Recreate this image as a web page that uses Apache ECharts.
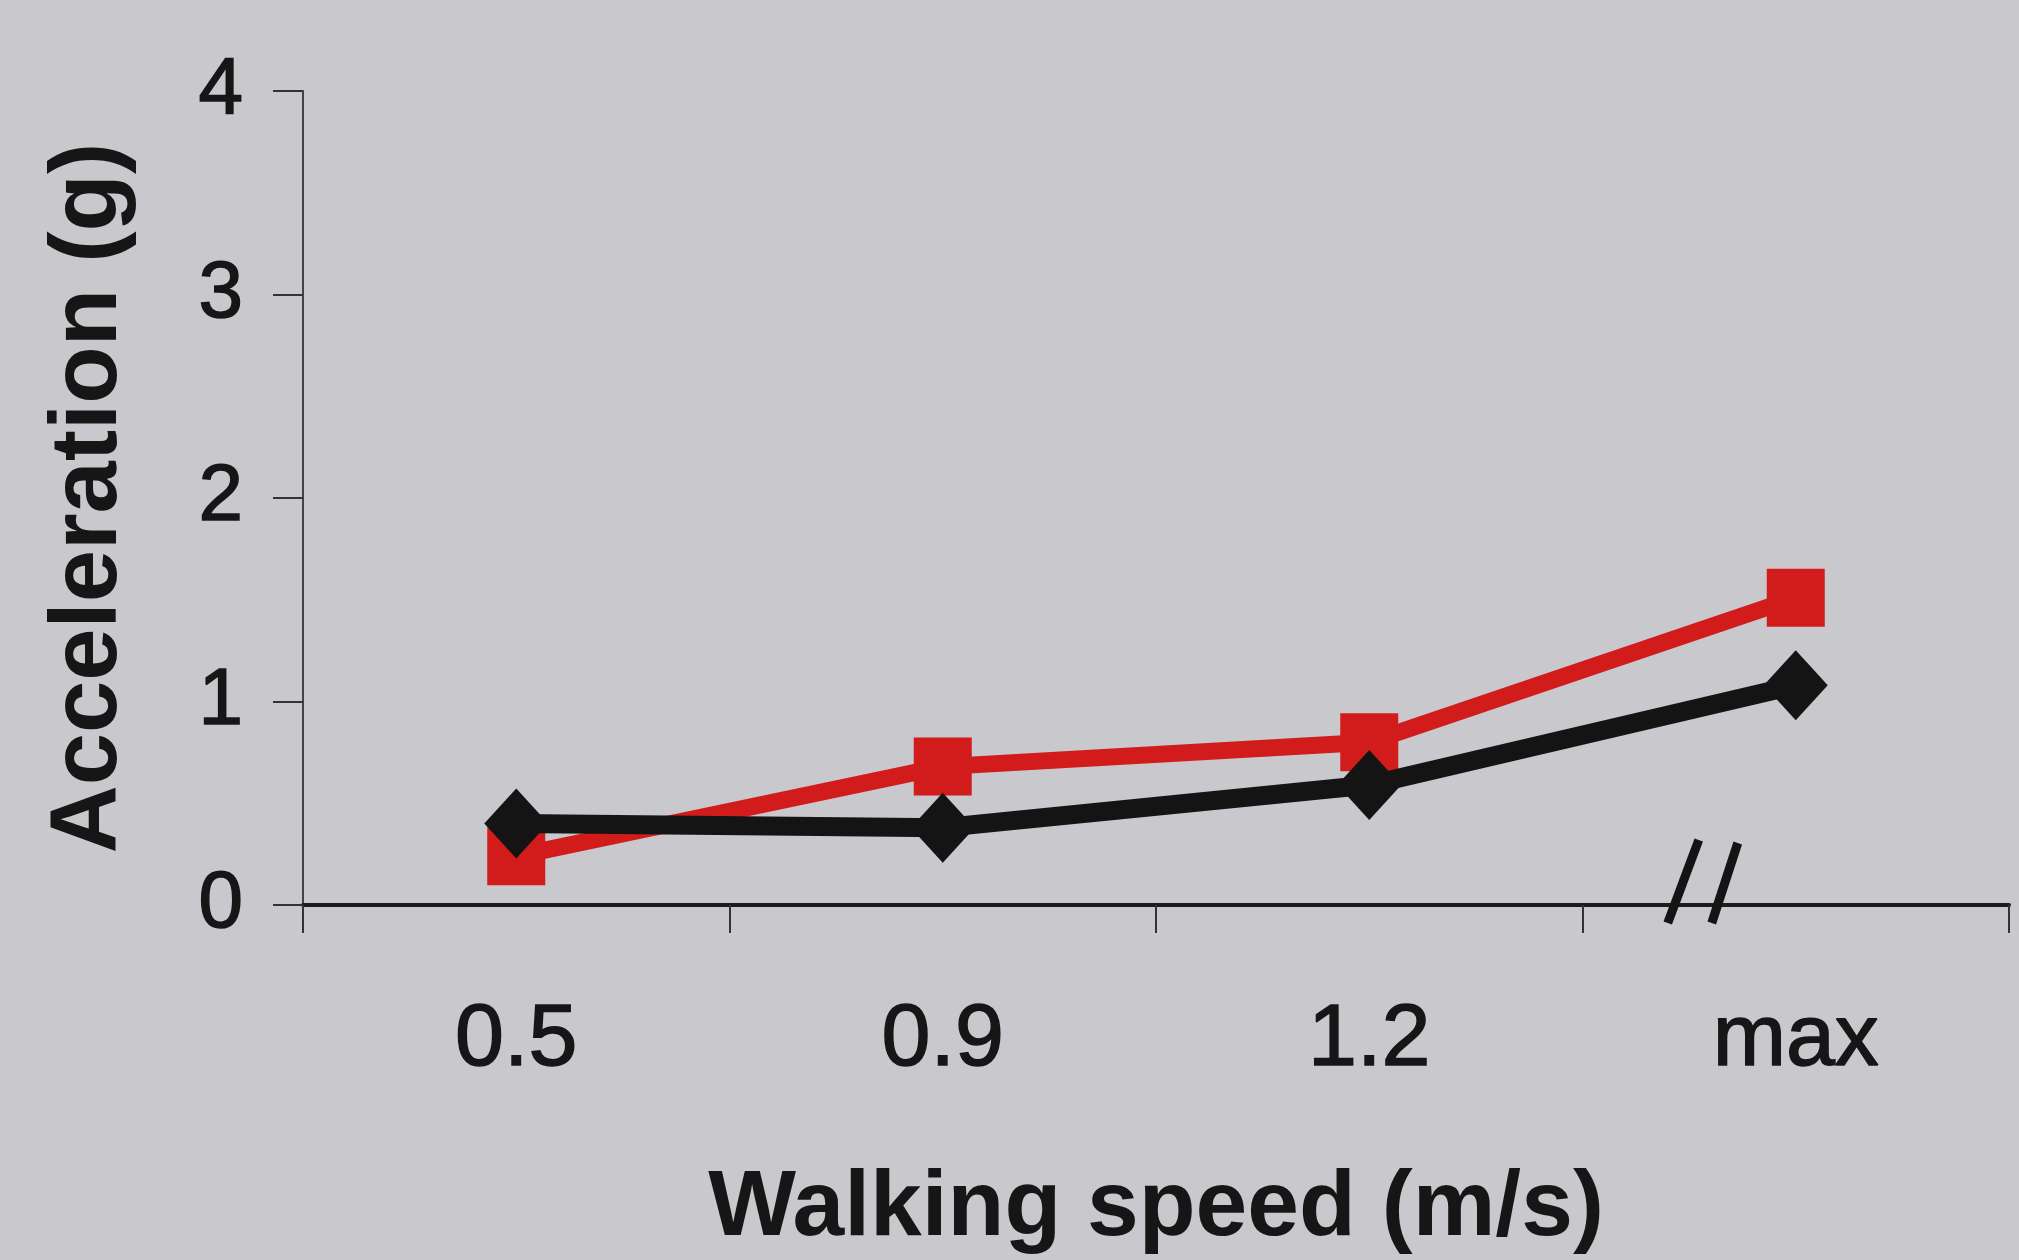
<!DOCTYPE html>
<html><head><meta charset="utf-8">
<script src="https://cdn.jsdelivr.net/npm/echarts@6/dist/echarts.min.js"></script>
<style>html,body{margin:0;padding:0;background:#c8c8cd}#c{width:2019px;height:1260px}</style>
</head><body><div id="c"></div>
<script>
const categories = ['0.5', '0.9', '1.2', 'max'];
const redSeries = [0.24, 0.68, 0.80, 1.51];
const blackSeries = [0.40, 0.38, 0.59, 1.08];
const yTicks = [0, 1, 2, 3, 4];

const chart = echarts.init(document.getElementById('c'));
const txt = '#161616';
chart.setOption({
  backgroundColor: '#c8c8cd',
  animation: false,
  grid: {left: 303, right: 10, top: 91, bottom: 355, containLabel: false, outerBoundsMode: 'none'},
  xAxis: {
    type: 'category', data: categories, boundaryGap: true,
    axisLine: {lineStyle: {color: '#1c1c1c', width: 4}},
    axisTick: {show: true, length: 28, lineStyle: {color: '#333', width: 2}},
    axisLabel: {fontSize: 88, color: txt, margin: 92, fontFamily: 'Liberation Sans',
                textBorderColor: txt, textBorderWidth: 1.5},
    name: 'Walking speed (m/s)', nameLocation: 'middle', nameGap: 258,
    nameTextStyle: {fontSize: 93, fontWeight: 'bold', color: txt, fontFamily: 'Liberation Sans'}
  },
  yAxis: {
    type: 'value', min: yTicks[0], max: yTicks[yTicks.length - 1], interval: 1,
    splitLine: {show: false},
    axisLine: {show: true, lineStyle: {color: '#444', width: 2}},
    axisTick: {show: true, length: 30, lineStyle: {color: '#333', width: 2}},
    axisLabel: {fontSize: 80, color: txt, margin: 60, fontFamily: 'Liberation Sans',
                textBorderColor: txt, textBorderWidth: 1.5},
    name: 'Acceleration (g)', nameLocation: 'middle', nameGap: 166,
    nameTextStyle: {fontSize: 94, fontWeight: 'bold', color: txt, fontFamily: 'Liberation Sans'}
  },
  series: [
    {type: 'line', data: redSeries, symbol: 'rect', symbolSize: 58,
     lineStyle: {color: '#d21c1c', width: 17}, itemStyle: {color: '#d21c1c'}, z: 2},
    {type: 'line', data: blackSeries, symbol: 'diamond', symbolSize: [64, 70],
     lineStyle: {color: '#141414', width: 19}, itemStyle: {color: '#141414'}, z: 3}
  ]
});

// axis break mark "//" placed relative to the last category and zero line
const pMax = chart.convertToPixel({xAxisIndex: 0, yAxisIndex: 0}, ['max', 0]);
const cx = pMax[0], cy = pMax[1];
chart.setOption({graphic: [
  {type: 'line', shape: {x1: cx - 128, y1: cy + 18, x2: cx - 97, y2: cy - 65}, style: {stroke: '#141414', lineWidth: 9}, z: 10},
  {type: 'line', shape: {x1: cx - 84, y1: cy + 18, x2: cx - 58, y2: cy - 62}, style: {stroke: '#141414', lineWidth: 9}, z: 10}
]});
</script></body></html>
